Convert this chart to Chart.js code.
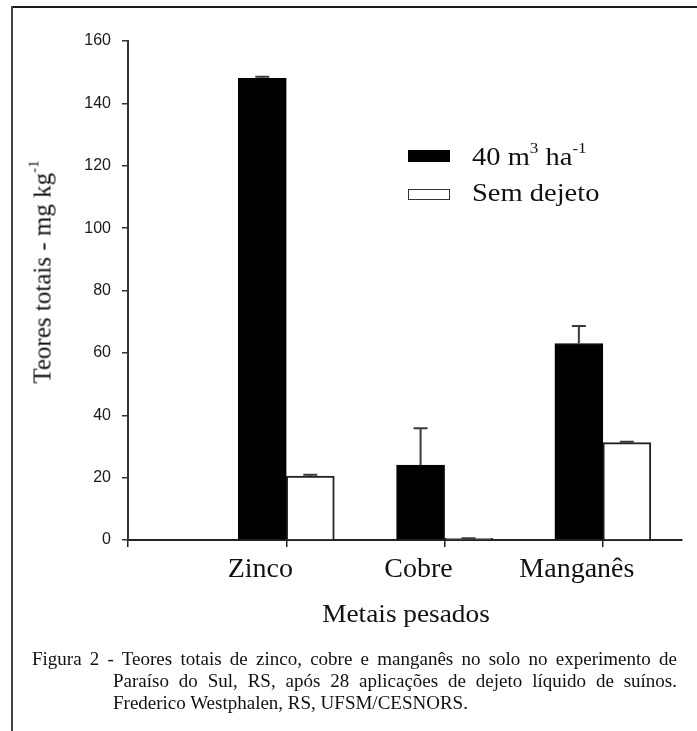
<!DOCTYPE html>
<html><head><meta charset="utf-8">
<script src="https://cdn.jsdelivr.net/npm/chart.js@4"></script>
<style>
html,body{margin:0;padding:0;background:#fff;}
#wrap{position:relative;width:697px;height:731px;overflow:hidden;background:#fff;}
#c{position:absolute;left:0;top:0;}
.frameTop{position:absolute;left:11px;top:6px;width:686px;height:2px;background:#1a1a1a;}
.frameLeft{position:absolute;left:11px;top:6px;width:2px;height:725px;background:#444;}
.serif{font-family:"Liberation Serif","Times New Roman",serif;color:#111;position:absolute;white-space:nowrap;}
sup{font-size:0.6em;line-height:0;position:relative;top:-0.15em;vertical-align:super;}
#ytitle{left:42px;top:272px;font-size:25px;line-height:25px;transform:translate(-50%,-50%) rotate(-90deg);}
.box{position:absolute;width:42px;}
.legtxt{font-size:25px;line-height:25px;transform:scaleX(1.14);transform-origin:0 50%;}
#xtitle{left:406px;top:601px;font-size:26px;line-height:26px;transform:translateX(-50%) scaleX(1.05);}
.cap{font-size:19px;line-height:22px;}
.just{text-align:justify;text-align-last:justify;white-space:normal;}
</style>
</head><body>
<div id="wrap">
  <canvas id="c" width="697" height="731"></canvas>
  <div class="frameTop"></div>
  <div class="frameLeft"></div>
  <div id="ytitle" class="serif"></div>
  <div id="legend"></div>
  <div id="xtitle" class="serif"></div>
  <div id="caption"></div>
</div>
<script>
// ---- data ----
const categories = ['Zinco', 'Cobre', 'Manganês'];
const seriesNames = ['40 m<sup>3</sup> ha<sup>-1</sup>', 'Sem dejeto'];
const comDejeto = [148.0, 24.0, 63.0];
const comDejetoErr = [0.5, 11.8, 5.6];
const semDejeto = [20.5, 0.5, 31.2];
const semDejetoErr = [0.4, 0.1, 0.3];
const yTickValues = [0, 20, 40, 60, 80, 100, 120, 140, 160];
const xTickValues = [0, 1, 2, 3];
const yTitle = 'Teores totais - mg kg<sup>-1</sup>';
const xTitle = 'Metais pesados';
const captionLines = [
  'Figura 2 - Teores totais de zinco, cobre e manganês no solo no experimento de',
  'Paraíso do Sul, RS, após 28 aplicações de dejeto líquido de suínos.',
  'Frederico Westphalen, RS, UFSM/CESNORS.'
];

// ---- text elements ----
document.getElementById('ytitle').innerHTML = yTitle;
document.getElementById('xtitle').textContent = xTitle;
const leg = document.getElementById('legend');
leg.innerHTML =
  '<div class="box" style="left:408px;top:150px;height:12px;background:#000;"></div>' +
  '<div class="serif legtxt" style="left:472px;top:144px;">' + seriesNames[0] + '</div>' +
  '<div class="box" style="left:408px;top:189px;height:11px;background:#fff;border:1.5px solid #333;box-sizing:border-box;"></div>' +
  '<div class="serif legtxt" style="left:472px;top:180px;">' + seriesNames[1] + '</div>';
const cap = document.getElementById('caption');
cap.innerHTML =
  '<div class="serif cap just" style="left:32px;top:648px;width:645px;">' + captionLines[0] + '</div>' +
  '<div class="serif cap just" style="left:113px;top:670px;width:564px;">' + captionLines[1] + '</div>' +
  '<div class="serif cap" style="left:113px;top:692px;">' + captionLines[2] + '</div>';

// ---- error bars ----
const errorBarPlugin = {
  id: 'errbars',
  afterDatasetsDraw(chart) {
    const ctx = chart.ctx, ys = chart.scales.y;
    chart.data.datasets.forEach((ds, di) => {
      const meta = chart.getDatasetMeta(di);
      meta.data.forEach((bar, i) => {
        const v = ds.data[i].y, e = ds.errors[i];
        if (!e) return;
        const top = ys.getPixelForValue(v + e);
        ctx.save();
        ctx.strokeStyle = '#3a3a3a';
        ctx.lineWidth = 2;
        ctx.beginPath();
        ctx.moveTo(bar.x, bar.y);
        ctx.lineTo(bar.x, top);
        ctx.moveTo(bar.x - 7, top);
        ctx.lineTo(bar.x + 7, top);
        ctx.stroke();
        ctx.restore();
      });
    });
  }
};

new Chart(document.getElementById('c'), {
  type: 'bar',
  data: {
    datasets: [
      { label: '40 m³ ha⁻¹', data: comDejeto.map((v, i) => ({ x: i + 1, y: v })), errors: comDejetoErr,
        backgroundColor: '#000', borderColor: '#000', borderWidth: 1, barThickness: 48 },
      { label: 'Sem dejeto', data: semDejeto.map((v, i) => ({ x: i + 1, y: v })), errors: semDejetoErr,
        backgroundColor: '#fff', borderColor: '#222', borderWidth: 2, barThickness: 48 }
    ]
  },
  options: {
    responsive: false, animation: false, devicePixelRatio: 1,
    layout: { padding: { left: 0, top: 41, right: 15, bottom: 0 } },
    plugins: { legend: { display: false }, tooltip: { enabled: false } },
    scales: {
      x: {
        type: 'linear', min: 0, max: 3.5, offset: false,
        afterBuildTicks: s => { s.ticks = xTickValues.map(v => ({ value: v })); },
        afterFit: s => { s.height = 191; },
        grid: { offset: false, drawOnChartArea: false, drawTicks: true, tickLength: 7, color: '#222', lineWidth: 1.5 },
        border: { display: true, color: '#222', width: 2 },
        ticks: { callback: v => categories[v - 1] || '', autoSkip: false, maxRotation: 0, labelOffset: -26,
                 font: { family: 'Liberation Serif', size: 28 }, color: '#111', padding: 6 }
      },
      y: {
        min: 0, max: 160,
        afterBuildTicks: s => { s.ticks = yTickValues.map(v => ({ value: v })); },
        afterFit: s => { s.width = 128; },
        grid: { drawOnChartArea: false, drawTicks: true, tickLength: 6, color: '#333', lineWidth: 1.5 },
        border: { display: true, color: '#333', width: 2 },
        ticks: { font: { family: 'Liberation Sans', size: 16 }, color: '#1a1a1a', padding: 11 }
      }
    }
  },
  plugins: [errorBarPlugin]
});
</script>
</body></html>
